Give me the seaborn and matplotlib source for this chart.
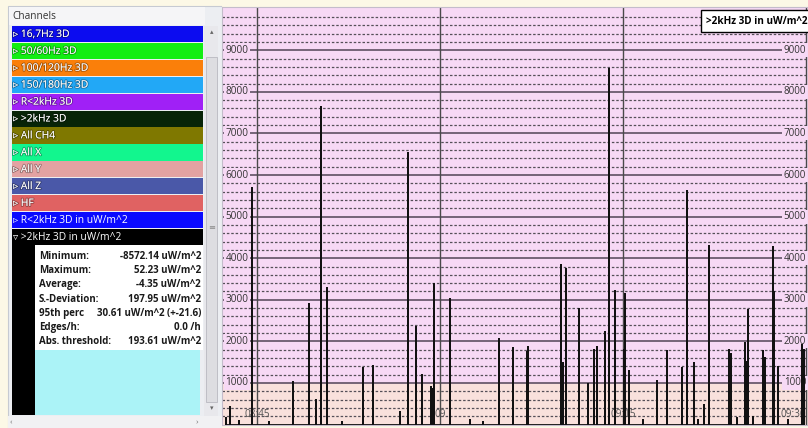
import matplotlib
matplotlib.use("Agg")
import matplotlib.pyplot as plt
from matplotlib.patches import Rectangle
from matplotlib import patheffects as pe
import matplotlib.transforms as mtransforms
import seaborn as sns
import pandas as pd

# ---- data ----
spike_times = [
    "08:42:28", "08:42:47", "08:43:30", "08:44:34", "08:46:00", "08:47:57",
    "08:49:16", "08:49:50", "08:50:15", "08:50:44", "08:52:00", "08:53:41",
    "08:54:30", "08:56:43", "08:57:23", "08:58:02", "08:58:31", "08:59:16",
    "08:59:21", "08:59:30", "09:00:49", "09:02:30", "09:03:30", "09:04:50",
    "09:05:59", "09:07:08", "09:07:13", "09:09:55", "09:10:05", "09:10:20",
    "09:11:24", "09:12:08", "09:12:37", "09:12:52", "09:13:31", "09:13:51",
    "09:14:21", "09:15:05", "09:15:10", "09:15:30", "09:16:40", "09:17:47",
    "09:18:36", "09:19:50", "09:20:15", "09:20:49", "09:21:10", "09:21:38",
    "09:22:03", "09:23:41", "09:23:51", "09:24:20", "09:25:00", "09:25:05",
    "09:25:15", "09:25:39", "09:26:29", "09:26:39", "09:27:18", "09:27:23",
    "09:27:42", "09:28:30", "09:29:40", "09:29:50",
]
spike_values = [
    150, 430, 80, 5700, 60, 1030,
    2890, 600, 7630, 3280, 70, 1370,
    1410, 300, 6530, 2350, 1190, 900,
    850, 3370, 3030, 120, 60, 2060,
    1850, 1750, 1860, 3830, 1490, 3750,
    2780, 980, 1790, 1870, 2230, 8540,
    3210, 1790, 3130, 1280, 100, 1040,
    1780, 1370, 5620, 1480, 120, 480,
    4300, 1790, 1700, 150, 1960, 1500,
    2750, 190, 1770, 1600, 4280, 3180,
    1390, 120, 1910, 1800,
]

y_major = [1000, 2000, 3000, 4000, 5000, 6000, 7000, 8000, 9000]
time_ticks = ["08:45", "09:00", "09:15", "09:30"]
time_labels = ["08:45", "09", "09:15", "09:30"]
threshold = 1000
series_name = ">2kHz 3D in uW/m^2"

channel_names = [
    "16,7Hz 3D", "50/60Hz 3D", "100/120Hz 3D", "150/180Hz 3D", "R<2kHz 3D",
    ">2kHz 3D", "All CH4", "All X", "All Y", "All Z", "HF",
    "R<2kHz 3D in uW/m^2", ">2kHz 3D in uW/m^2",
]
channel_colors = [
    "#0c0cf0", "#12ee12", "#fa7f0a", "#22a8f6", "#a020f6",
    "#072407", "#7f7800", "#12f68e", "#e2a2a2", "#4a58a8", "#e06262",
    "#0a0aff", "#000000",
]

stat_labels = ["Minimum:", "Maximum:", "Average:", "S.-Deviation:",
               "95th perc", "Edges/h:", "Abs. threshold:"]
stat_values = ["-8572.14 uW/m^2", "52.23 uW/m^2", "-4.35 uW/m^2",
               "197.95 uW/m^2", "30.61 uW/m^2 (+-21.6)", "0.0 /h",
               "193.61 uW/m^2"]

# ---- style ----
sns.set_style("white")
plt.rcParams["font.family"] = ["Open Sans", "DejaVu Sans"]

W, H = 808, 428
fig = plt.figure(figsize=(W / 100, H / 100), dpi=100)
fig.patch.set_facecolor("#fcf8e6")

pink = "#f7d9f5"
peach = "#f9e1dc"

day = "2015-06-01 "
t = pd.to_datetime([day + s for s in spike_times])
rows = []
for ti, v in sorted(zip(t, spike_values)):
    rows += [(ti, 0), (ti, v), (ti, 0)]
trace = pd.DataFrame(rows, columns=["time", "value"])

# ---- main chart ----
ax = fig.add_axes([222 / W, 3 / H, 586 / W, 418 / H])
ax.set_facecolor(pink)
ax.axhspan(-100, threshold, color=peach, zorder=0)

for v in range(200, 10000, 200):
    if v % 1000:
        ax.axhline(v, color="#555058", lw=0.9, ls=(0, (2, 1.5)), zorder=1)
for v in y_major:
    ax.axhline(v, color="#6b5b6e", lw=1.3, zorder=1)
tick_ts = pd.to_datetime([day + s for s in time_ticks])
for ts in tick_ts:
    ax.axvline(ts, color="#4a4a4a", lw=1.0, zorder=1)

sns.lineplot(data=trace, x="time", y="value", sort=False, estimator=None,
             color="#111111", linewidth=1.3, ax=ax, zorder=4)

ax.set_xlim(pd.Timestamp(day + "08:42:08"), pd.Timestamp(day + "09:30:10"))
ax.set_ylim(-10, 10040)
ax.set_xticks([])
ax.set_yticks([])
ax.set_xlabel("")
ax.set_ylabel("")
for s in ax.spines.values():
    s.set_color("#c4bccb")
    s.set_linewidth(0.8)

lab_box = dict(boxstyle="square,pad=0.15", fc=pink, ec="none")
for v in y_major:
    ax.text(0.006, v, str(v), transform=ax.get_yaxis_transform(), fontsize=7.2,
            color="#333333", va="center", ha="left", bbox=lab_box, zorder=2)
    ax.text(0.997, v, str(v), transform=ax.get_yaxis_transform(), fontsize=7.0,
            color="#333333", va="center", ha="right", bbox=lab_box, zorder=2)

xtrans = mtransforms.blended_transform_factory(ax.transData, ax.transAxes)
for ts, lab in zip(tick_ts, time_labels):
    ax.text(ts, 0.024, lab, transform=xtrans, fontsize=7.2, color="#555555",
            ha="center" if lab != "09:30" else "right", va="center", zorder=3)

ax.text(0.826, 0.966, series_name, transform=ax.transAxes, fontsize=7.2,
        fontweight="bold", color="black", ha="left", va="center", zorder=6,
        bbox=dict(boxstyle="square,pad=0.55", fc="white", ec="black", lw=1.0))

# ---- channel panel ----
px = fig.add_axes([0, 0, 222 / W, 1])
px.set_xlim(0, 222)
px.set_ylim(H, 0)
px.axis("off")

px.add_patch(Rectangle((8, 6), 214, 422, fc="#eceef2", ec="#c6cad2", lw=0.8))
px.add_patch(Rectangle((9, 7), 196, 18, fc="#f5f5f7", ec="none"))
px.text(12, 16, "Channels", fontsize=7.3, color="#333333", va="center")

# scrollbar
px.add_patch(Rectangle((204, 26), 14, 390, fc="#e8e8ec", ec="none"))
px.add_patch(Rectangle((206, 57), 11, 345, fc="#dddde1", ec="#b9b9c0", lw=0.6))
px.text(211.5, 33, "▴", fontsize=5, color="#666666", ha="center", va="center")
px.text(211.5, 409, "▾", fontsize=5, color="#666666", ha="center", va="center")
px.text(211.5, 228, "≡", fontsize=6, color="#888888", ha="center", va="center")

row_h = 16.9
shadow = [pe.withStroke(linewidth=1.4, foreground=(0, 0, 0, 0.3))]
for i, (name, col) in enumerate(zip(channel_names, channel_colors)):
    y0 = 26 + i * row_h
    px.add_patch(Rectangle((12, y0), 191, row_h - 0.7, fc=col, ec="none"))
    last = i >= len(channel_names) - 2
    mark = "▿" if i == len(channel_names) - 1 else "▹"
    px.text(13, y0 + row_h / 2, f"{mark} {name}", fontsize=7.4,
            color="white", va="center", ha="left",
            path_effects=None if last else shadow)

# expanded channel details
top = 26 + len(channel_names) * row_h - 0.7
px.add_patch(Rectangle((12, top), 23, 415 - top, fc="black", ec="none"))
px.add_patch(Rectangle((35, top), 168, 350 - top, fc="white", ec="none"))
px.add_patch(Rectangle((35, 350), 165, 65, fc="#abf3f7", ec="none"))
for k, (lab, val) in enumerate(zip(stat_labels, stat_values)):
    y = 256.5 + 14.2 * k
    px.text(39, y, lab, fontsize=7.0, fontweight="bold", color="#1a1a1a",
            va="center", ha="left")
    px.text(201, y, val, fontsize=7.0, fontweight="bold", color="#1a1a1a",
            va="center", ha="right")

# bottom scrollbar
px.add_patch(Rectangle((8, 416), 214, 12, fc="#f1f1f3", ec="none"))
px.text(10, 423, "‹", fontsize=6, color="#777777", va="center")
px.text(196, 423, "›", fontsize=6, color="#777777", va="center")

fig.savefig("out.png", dpi=100, facecolor=fig.get_facecolor())
